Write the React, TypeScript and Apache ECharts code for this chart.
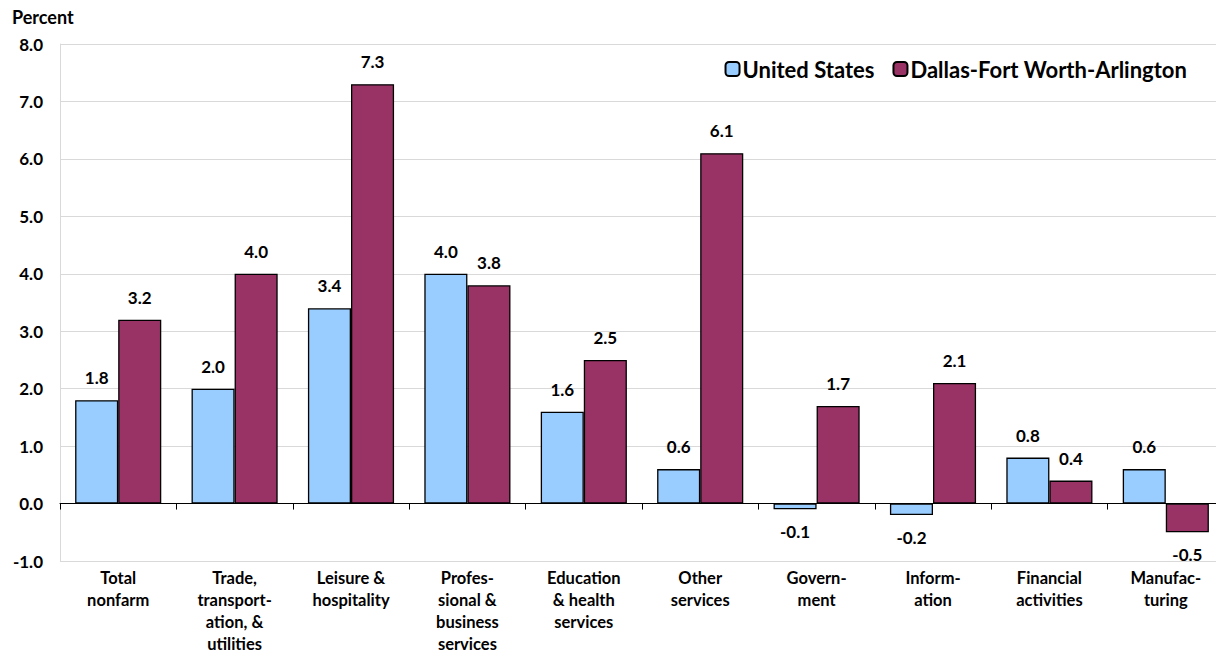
import React, { useEffect, useRef } from "react";
import * as echarts from "echarts";

const categories = [
  "Total\nnonfarm",
  "Trade,\ntransport-\nation, &\nutilities",
  "Leisure &\nhospitality",
  "Profes-\nsional &\nbusiness\nservices",
  "Education\n& health\nservices",
  "Other\nservices",
  "Govern-\nment",
  "Inform-\nation",
  "Financial\nactivities",
  "Manufac-\nturing",
];
const usValues = [1.8, 2.0, 3.4, 4.0, 1.6, 0.6, -0.1, -0.2, 0.8, 0.6];
const dfwValues = [3.2, 4.0, 7.3, 3.8, 2.5, 6.1, 1.7, 2.1, 0.4, -0.5];
const seriesNames = ["United States", "Dallas-Fort Worth-Arlington"];
const FONT = "Lato, 'Open Sans', sans-serif";

function toData(vals: number[]) {
  return vals.map((v) => ({
    value: v,
    label: { position: v < 0 ? "bottom" : "top", distance: 14 },
  }));
}

export default function App() {
  const ref = useRef<HTMLDivElement>(null);
  useEffect(() => {
    if (!ref.current) return;
    const chart = echarts.init(ref.current, undefined, { renderer: "svg" });
    const labelStyle = {
      show: true,
      formatter: (p: any) => Number(p.value).toFixed(1),
      fontFamily: FONT,
      fontWeight: "bold",
      fontSize: 17,
      color: "#000",
    };
    chart.setOption({
      animation: false,
      textStyle: { fontFamily: FONT },
      legend: {
        top: 53,
        right: 32,
        itemWidth: 14,
        itemHeight: 14,
        itemGap: 18,
        textStyle: { fontFamily: FONT, fontWeight: "bold", fontSize: 22, color: "#000", padding: [0, 0, 0, -2] },
        data: seriesNames,
      },
      grid: { left: 60, right: 0, top: 44, bottom: 97, outerBoundsMode: "none", containLabel: false },
      graphic: [
        {
          type: "text",
          left: 12,
          top: 8,
          style: { text: "Percent", fontFamily: FONT, fontWeight: "bold", fontSize: 18, fill: "#000" },
        },
      ],
      xAxis: {
        type: "category",
        data: categories,
        axisLine: { onZero: true, lineStyle: { color: "#000", width: 1 } },
        axisTick: { show: true, alignWithLabel: false, length: 6, lineStyle: { color: "#000" } },
        axisLabel: {
          interval: 0,
          margin: 6,
          fontFamily: FONT,
          fontWeight: "bold",
          fontSize: 16.5,
          lineHeight: 22,
          color: "#000",
          verticalAlign: "top",
        },
      },
      yAxis: {
        type: "value",
        min: -1,
        max: 8,
        interval: 1,
        axisLine: { show: true, lineStyle: { color: "#d9d9d9" } },
        axisTick: { show: false },
        splitLine: { lineStyle: { color: "#d9d9d9", width: 1 } },
        axisLabel: {
          formatter: (v: number) => v.toFixed(1),
          fontFamily: FONT,
          fontWeight: "bold",
          fontSize: 17,
          color: "#000",
          margin: 17,
        },
      },
      series: [
        {
          name: seriesNames[0],
          type: "bar",
          data: toData(usValues),
          barGap: "0%",
          barCategoryGap: "26%",
          itemStyle: { color: "#99CCFF", borderColor: "#000", borderWidth: 1.3 },
          label: labelStyle,
        },
        {
          name: seriesNames[1],
          type: "bar",
          data: toData(dfwValues),
          barGap: "0%",
          barCategoryGap: "26%",
          itemStyle: { color: "#993366", borderColor: "#000", borderWidth: 1.3 },
          label: labelStyle,
        },
      ],
    });
    return () => chart.dispose();
  }, []);
  return <div ref={ref} style={{ width: 1224, height: 658, margin: -8 }} />;
}
